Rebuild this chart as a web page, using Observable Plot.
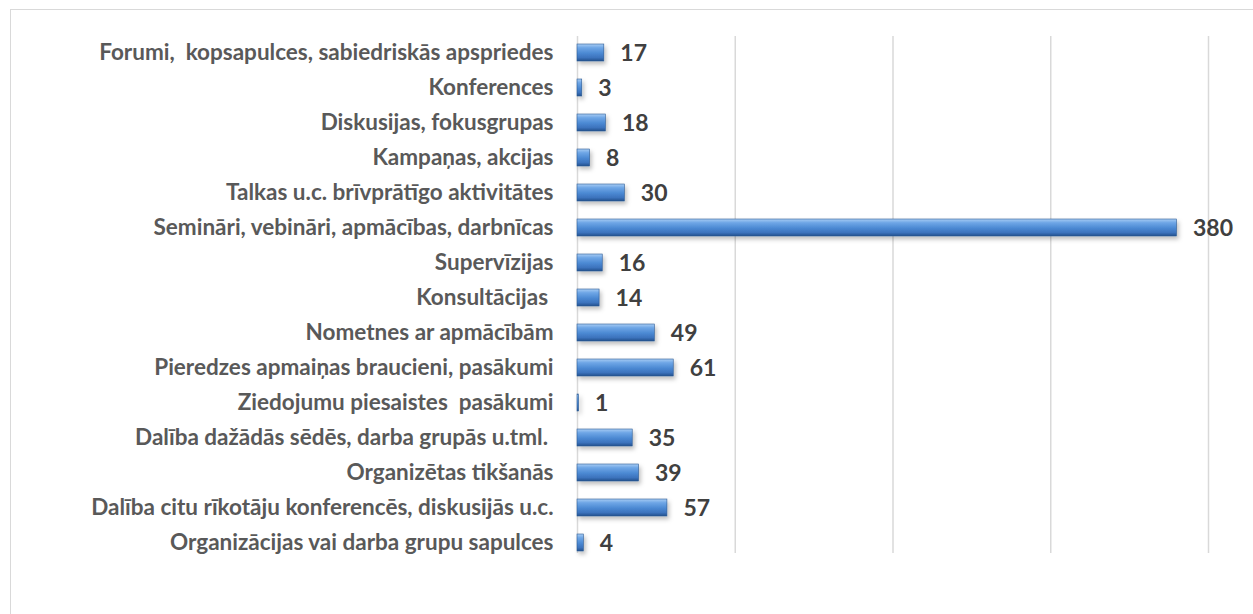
<!DOCTYPE html>
<html>
<head>
<meta charset="utf-8">
<script src="https://cdn.jsdelivr.net/npm/d3@7"></script>
<script src="https://cdn.jsdelivr.net/npm/@observablehq/plot@0.6"></script>
<style>
  html, body { margin: 0; padding: 0; background: #fff; }
  #wrap { position: relative; width: 1253px; height: 614px; overflow: hidden; }
  #frame { position: absolute; left: 10px; top: 9px; width: 1260px; height: 640px; border: 1px solid #d9d9d9; box-sizing: border-box; }
  #chart { position: absolute; left: 0; top: 0; }
</style>
</head>
<body>
<div id="wrap"><div id="frame"></div><div id="chart"></div></div>
<script>
const categories = [
  "Forumi,\u00a0 kopsapulces, sabiedriskās apspriedes",
  "Konferences",
  "Diskusijas, fokusgrupas",
  "Kampaņas, akcijas",
  "Talkas u.c. brīvprātīgo aktivitātes",
  "Semināri, vebināri, apmācības, darbnīcas",
  "Supervīzijas",
  "Konsultācijas\u00a0",
  "Nometnes ar apmācībām",
  "Pieredzes apmaiņas braucieni, pasākumi",
  "Ziedojumu piesaistes\u00a0 pasākumi",
  "Dalība dažādās sēdēs, darba grupās u.tml.\u00a0",
  "Organizētas tikšanās",
  "Dalība citu rīkotāju konferencēs, diskusijās u.c.",
  "Organizācijas vai darba grupu sapulces"
];
const values = [17, 3, 18, 8, 30, 380, 16, 14, 49, 61, 1, 35, 39, 57, 4];
const gridTicks = [0, 100, 200, 300, 400];

const data = categories.map((c, i) => ({category: c, value: values[i]}));

const chart = Plot.plot({
  width: 1253,
  height: 614,
  marginLeft: 577,
  marginRight: 45,
  marginTop: 34.5,
  marginBottom: 54.5,
  style: {fontFamily: "Lato, sans-serif", background: "transparent"},
  x: {domain: [0, 400], axis: null},
  y: {domain: categories, padding: 0, axis: null},
  marks: [
    Plot.ruleX(gridTicks, {x: d => d, stroke: "#d9d9d9", strokeWidth: 1.5, insetTop: 1.5, insetBottom: 6.5}),
    Plot.barX(data, {x: "value", y: "category", fill: "url(#barGrad)", stroke: "#2b5a94", strokeWidth: 0.6, insetTop: 9, insetBottom: 9}),
    Plot.text(data, {x: 0, y: "category", text: "category", textAnchor: "end", dx: -24, fontSize: 22.5, fontWeight: 700, fill: "#595959"}),
    Plot.text(data, {x: "value", y: "category", text: d => String(d.value), textAnchor: "start", dx: 16, dy: 1, fontSize: 23, fontWeight: 700, fill: "#404040"})
  ]
});

const ns = "http://www.w3.org/2000/svg";
const defs = document.createElementNS(ns, "defs");
defs.innerHTML = `
  <linearGradient id="barGrad" x1="0" y1="0" x2="0" y2="1">
    <stop offset="0" stop-color="#a9cdf4"/>
    <stop offset="0.22" stop-color="#6ea6e6"/>
    <stop offset="0.55" stop-color="#4b88d2"/>
    <stop offset="0.8" stop-color="#3c73bd"/>
    <stop offset="1" stop-color="#23508c"/>
  </linearGradient>
  <filter id="shadow" x="-5%" y="-30%" width="115%" height="190%">
    <feDropShadow dx="2" dy="3" stdDeviation="2" flood-color="#000" flood-opacity="0.25"/>
  </filter>`;
chart.insertBefore(defs, chart.firstChild);
const barGroup = chart.querySelector('g[aria-label="bar"]');
if (barGroup) barGroup.setAttribute("filter", "url(#shadow)");
document.getElementById("chart").appendChild(chart);
</script>
</body>
</html>
